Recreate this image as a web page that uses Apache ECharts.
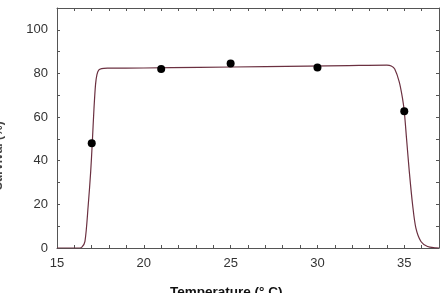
<!DOCTYPE html>
<html><head><meta charset="utf-8">
<script src="https://cdn.jsdelivr.net/npm/echarts@6/dist/echarts.min.js"></script>
<style>html,body{margin:0;padding:0;background:#fff}#c{width:443px;height:293px}</style>
</head><body><div id="c"></div>
<script>
// observed points (temperature °C, survival %)
const obsTemp = [17, 21, 25, 30, 35];
const obsSurv = [48, 82, 84.6, 82.7, 62.7];
// fitted curve
const curveTemp = [15, 16.2, 16.42, 16.61, 16.8, 16.94, 17.03, 17.13, 17.22, 17.3, 17.4, 17.57, 17.9, 20, 23.2, 27, 31.8, 34.0, 34.25, 34.45, 34.71, 34.9, 35.0, 35.13, 35.29, 35.48, 35.67, 35.96, 36.34, 36.82, 37];
const curveSurv = [0, 0, 0.3, 3.0, 19.8, 35, 47.9, 63.9, 75, 79.5, 81.5, 82.2, 82.4, 82.5, 82.8, 83.1, 83.6, 83.8, 83.4, 82.0, 76.1, 68.5, 62.7, 50.2, 35, 19.8, 9.1, 3, 0.7, 0.1, 0];
const xTickLabels = [15, 20, 25, 30, 35];
const yTickLabels = [0, 20, 40, 60, 80, 100];
const xTitle = 'Temperature (° C)';
const yTitle = 'Survival (%)';

const chart = echarts.init(document.getElementById('c'), null, {renderer: 'canvas'});
const axisLine = {show: true, onZero: false, lineStyle: {color: '#555', width: 1}};
const tick = {show: true, inside: true, length: 3, lineStyle: {color: '#555'}};
const font = 'Liberation Sans, Arial, sans-serif';
chart.setOption({
  animation: false,
  grid: {left: 57, right: 4, top: 8, bottom: 45},
  xAxis: [{
    type: 'value', min: 15, max: 37, interval: 1, axisLine, axisTick: tick,
    splitLine: {show: false},
    axisLabel: {margin: 9, color: '#333', fontSize: 13, fontFamily: font,
      formatter: v => xTickLabels.includes(v) ? String(v) : ''}
  }, {
    type: 'value', position: 'top', min: 15, max: 37, interval: 1, axisLine, axisTick: tick,
    splitLine: {show: false}, axisLabel: {show: false}
  }],
  yAxis: [{
    type: 'value', min: 0, max: 110, interval: 10, axisLine, axisTick: tick,
    splitLine: {show: false},
    axisLabel: {margin: 9, color: '#333', fontSize: 13, fontFamily: font,
      formatter: v => yTickLabels.includes(v) ? String(v) : ''}
  }, {
    type: 'value', position: 'right', min: 0, max: 110, interval: 10, axisLine, axisTick: tick,
    splitLine: {show: false}, axisLabel: {show: false}
  }],
  graphic: [
    {type: 'text', left: 170, top: 285, style: {text: xTitle, fontSize: 13.5, fontWeight: 'bold', fontFamily: font, fill: '#111'}},
    {type: 'text', x: -7, y: 190, rotation: Math.PI / 2, style: {text: yTitle, fontSize: 12, fontWeight: 'bold', fontFamily: font, fill: '#444'}}
  ],
  series: [{
    type: 'line', data: curveTemp.map((t, i) => [t, curveSurv[i]]), smooth: 0.3,
    showSymbol: false, lineStyle: {color: '#6b3040', width: 1.2}, z: 2
  }, {
    type: 'scatter', data: obsTemp.map((t, i) => [t, obsSurv[i]]),
    symbolSize: 8, itemStyle: {color: '#000', opacity: 1}, z: 3
  }]
});
</script></body></html>
